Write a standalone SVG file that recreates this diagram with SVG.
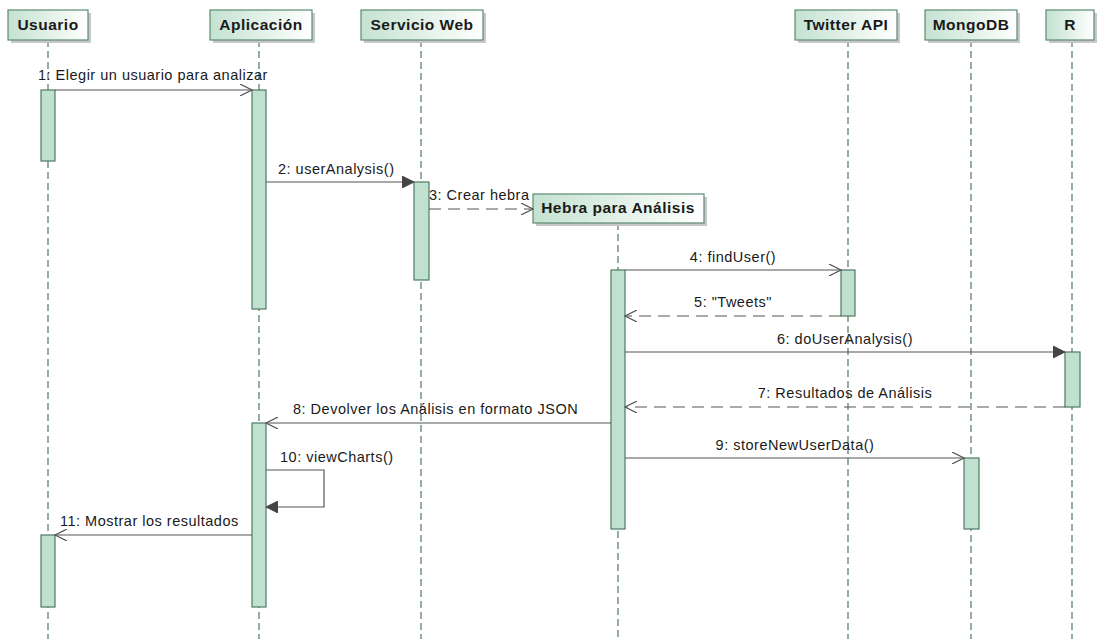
<svg xmlns="http://www.w3.org/2000/svg" width="1099" height="639" viewBox="0 0 1099 639">
  <style>
    .head { fill: url(#headFill); stroke: #5b8a70; stroke-width: 1.2; }
    .shadow { fill: #c8c8c8; }
    .headText { font-family: "Liberation Sans", Arial, sans-serif; font-size: 15.5px; letter-spacing: 0.5px; font-weight: bold; fill: #1a1a1a; text-anchor: middle; }
    .life { stroke: #4d7a63; stroke-width: 1.2; stroke-dasharray: 7 4; fill: none; }
    .act { fill: #c1e1d0; stroke: #4d7a63; stroke-width: 1.2; }
    .msg { stroke: #555; stroke-width: 1.2; fill: none; }
    .ret { stroke: #555; stroke-width: 1.2; fill: none; stroke-dasharray: 12 7; }
    .lbl { font-family: "Liberation Sans", Arial, sans-serif; font-size: 14.5px; letter-spacing: 0.5px; fill: #1a1a1a; }
    .mid { text-anchor: middle; }
  </style>
  <defs>
    <linearGradient id="headFill" x1="0" y1="0" x2="1" y2="0">
      <stop offset="0" stop-color="#c4e2d1"/>
      <stop offset="1" stop-color="#ffffff"/>
    </linearGradient>
    <marker id="open" markerWidth="14" markerHeight="12" refX="12" refY="6" orient="auto" markerUnits="userSpaceOnUse">
      <path d="M0,0 L12,6 L0,12" fill="none" stroke="#555" stroke-width="1.2"/>
    </marker>
    <marker id="filled" markerWidth="14" markerHeight="12" refX="12" refY="6" orient="auto" markerUnits="userSpaceOnUse">
      <path d="M0,0 L12,6 L0,12 Z" fill="#444" stroke="#444" stroke-width="1"/>
    </marker>
  </defs>

  <rect width="1099" height="639" fill="#ffffff"/>

  <!-- lifelines -->
  <g id="lifelines">
    <line class="life" x1="48" y1="40" x2="48" y2="639"/>
    <line class="life" x1="259" y1="40" x2="259" y2="639"/>
    <line class="life" x1="421" y1="40" x2="421" y2="639"/>
    <line class="life" x1="618" y1="223" x2="618" y2="639"/>
    <line class="life" x1="848" y1="40" x2="848" y2="639"/>
    <line class="life" x1="971" y1="40" x2="971" y2="639"/>
    <line class="life" x1="1072" y1="40" x2="1072" y2="639"/>
  </g>

  <!-- participants -->
  <g id="usuario">
    <rect class="shadow" x="11" y="13" width="80" height="30"/>
    <rect class="head" x="8" y="10" width="80" height="30"/>
    <text class="headText" x="48" y="30">Usuario</text>
  </g>
  <g id="aplicacion">
    <rect class="shadow" x="213" y="13" width="102" height="30"/>
    <rect class="head" x="210" y="10" width="102" height="30"/>
    <text class="headText" x="261" y="30">Aplicación</text>
  </g>
  <g id="servicio-web">
    <rect class="shadow" x="364" y="13" width="122" height="30"/>
    <rect class="head" x="361" y="10" width="122" height="30"/>
    <text class="headText" x="422" y="30">Servicio Web</text>
  </g>
  <g id="hebra">
    <rect class="shadow" x="536" y="197" width="171" height="29"/>
    <rect class="head" x="533" y="194" width="171" height="29"/>
    <text class="headText" x="618" y="213">Hebra para Análisis</text>
  </g>
  <g id="twitter-api">
    <rect class="shadow" x="798" y="13" width="102" height="30"/>
    <rect class="head" x="795" y="10" width="102" height="30"/>
    <text class="headText" x="846" y="30">Twitter API</text>
  </g>
  <g id="mongodb">
    <rect class="shadow" x="928" y="13" width="92" height="30"/>
    <rect class="head" x="925" y="10" width="92" height="30"/>
    <text class="headText" x="971" y="30">MongoDB</text>
  </g>
  <g id="r">
    <rect class="shadow" x="1049" y="13" width="48" height="30"/>
    <rect class="head" x="1046" y="10" width="48" height="30"/>
    <text class="headText" x="1070" y="30">R</text>
  </g>

  <!-- activation bars -->
  <g id="activations">
    <rect class="act" x="41" y="90" width="14" height="71"/>
    <rect class="act" x="252" y="90" width="14" height="219"/>
    <rect class="act" x="414" y="182" width="15" height="98"/>
    <rect class="act" x="611" y="270" width="14" height="259"/>
    <rect class="act" x="841" y="270" width="14" height="46"/>
    <rect class="act" x="1065" y="352" width="15" height="55"/>
    <rect class="act" x="964" y="458" width="15" height="71"/>
    <rect class="act" x="252" y="423" width="14" height="184"/>
    <rect class="act" x="41" y="535" width="14" height="72"/>
  </g>

  <!-- messages -->
  <g id="connectors">
    <line class="msg" x1="55" y1="90" x2="252" y2="90" marker-end="url(#open)"/>
    <line class="msg" x1="266" y1="182" x2="414" y2="182" marker-end="url(#filled)"/>
    <line class="ret" x1="429" y1="209" x2="533" y2="209" marker-end="url(#open)"/>
    <line class="msg" x1="625" y1="270" x2="841" y2="270" marker-end="url(#open)"/>
    <line class="ret" x1="841" y1="316" x2="625" y2="316" marker-end="url(#open)"/>
    <line class="msg" x1="625" y1="352" x2="1065" y2="352" marker-end="url(#filled)"/>
    <line class="ret" x1="1065" y1="407" x2="625" y2="407" marker-end="url(#open)"/>
    <line class="msg" x1="611" y1="423" x2="266" y2="423" marker-end="url(#open)"/>
    <line class="msg" x1="625" y1="458" x2="964" y2="458" marker-end="url(#open)"/>
    <polyline class="msg" points="266,470 324,470 324,507 266,507" marker-end="url(#filled)"/>
    <line class="msg" x1="252" y1="535" x2="55" y2="535" marker-end="url(#open)"/>
  </g>

  <!-- message labels -->
  <g id="labels">
    <text class="lbl" x="38" y="80">1: Elegir un usuario para analizar</text>
    <text class="lbl" x="278" y="174">2: userAnalysis()</text>
    <text class="lbl" x="429" y="200">3: Crear hebra</text>
    <text class="lbl mid" x="733" y="262">4: findUser()</text>
    <text class="lbl mid" x="733" y="307">5: "Tweets"</text>
    <text class="lbl mid" x="845" y="344">6: doUserAnalysis()</text>
    <text class="lbl mid" x="845" y="398">7: Resultados de Análisis</text>
    <text class="lbl" x="293" y="414">8: Devolver los Análisis en formato JSON</text>
    <text class="lbl mid" x="795" y="450">9: storeNewUserData()</text>
    <text class="lbl" x="280" y="462">10: viewCharts()</text>
    <text class="lbl" x="60" y="526">11: Mostrar los resultados</text>
  </g>
</svg>
